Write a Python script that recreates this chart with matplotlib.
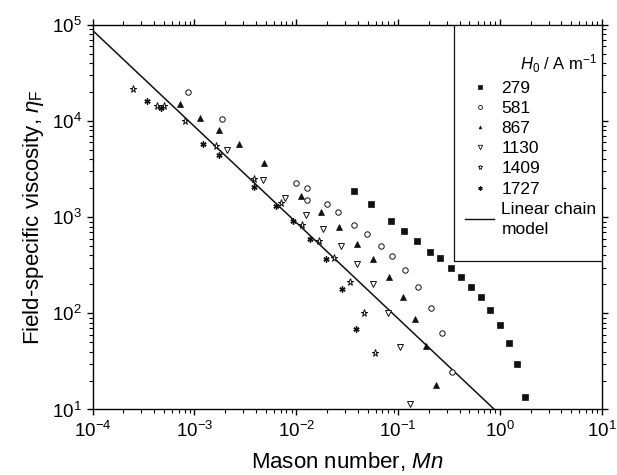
import matplotlib
matplotlib.use("Agg")
import matplotlib.pyplot as plt
from matplotlib.lines import Line2D
from matplotlib.patches import Rectangle

plt.rcParams['font.family'] = ['Liberation Sans', 'DejaVu Sans']
plt.rcParams['mathtext.fontset'] = 'custom'
plt.rcParams['mathtext.rm'] = 'Liberation Sans'
plt.rcParams['mathtext.it'] = 'Liberation Sans:italic'
plt.rcParams['mathtext.bf'] = 'Liberation Sans:bold'

# data (Mason number, field-specific viscosity)
mn_279 = [0.0365, 0.0545, 0.0841, 0.114, 0.154, 0.206, 0.255, 0.330, 0.414, 0.519,
          0.650, 0.803, 0.995, 1.23, 1.47, 1.75]
eta_279 = [1875, 1362, 920, 724, 565, 434, 376, 298, 240, 190,
           147, 109, 76.4, 49.3, 29.5, 13.4]

mn_581 = [8.73e-4, 1.88e-3, 9.98e-3, 0.0127, 0.0127, 0.0200, 0.0256, 0.0372, 0.0490,
          0.0671, 0.0869, 0.117, 0.157, 0.208, 0.271, 0.337]
eta_581 = [20180, 10510, 2297, 2013, 1510, 1362, 1147, 834, 666,
           498, 392, 284, 187, 114, 61.9, 24.5]

mn_867 = [7.24e-4, 1.14e-3, 1.74e-3, 2.75e-3, 4.86e-3, 0.01117, 0.01758, 0.0264,
          0.0398, 0.0566, 0.0803, 0.111, 0.147, 0.189, 0.234]
eta_867 = [15070, 10900, 8040, 5820, 3640, 1682, 1141, 785,
           532, 367, 240, 147, 87.7, 45.9, 17.9]

mn_1130 = [2.11e-3, 4.66e-3, 7.78e-3, 0.01245, 0.01828, 0.0272, 0.0394, 0.0565,
           0.0787, 0.1037, 0.1315]
eta_1130 = [5005, 2440, 1603, 1059, 750, 505, 329, 200, 101, 44.9, 11.5]

mn_1409 = [2.52e-4, 4.25e-4, 4.98e-4, 8.11e-4, 1.63e-3, 3.83e-3, 7.00e-3, 0.01148,
           0.01667, 0.02355, 0.0337, 0.0462, 0.0595]
eta_1409 = [21420, 14360, 14360, 9950, 5550, 2480, 1395, 839, 572, 374, 211, 100, 38.5]

mn_1727 = [3.40e-4, 4.66e-4, 1.205e-3, 1.74e-3, 3.83e-3, 6.31e-3, 9.22e-3, 0.01355,
           0.0195, 0.0281, 0.0381]
eta_1727 = [16270, 13690, 5735, 4470, 2087, 1308, 917, 600, 366, 178, 69.5]

model_mn = [1e-4, 0.88]
model_eta = [8.8e4, 10]

labels = ['279', '581', '867', '1130', '1409', '1727']
k = '#111111'
styles = [
    dict(marker='s', ms=3.8, mfc=k, mec=k, mew=0.5),
    dict(marker='o', ms=3.9, mfc='white', mec=k, mew=0.7),
    dict(marker='^', ms=4.9, mfc=k, mec=k, mew=0.5),
    dict(marker='v', ms=4.8, mfc='white', mec=k, mew=0.7),
    dict(marker='*', ms=5.2, mfc='white', mec=k, mew=0.7),
    dict(marker=(6, 2, 0), ms=4.4, mfc=k, mec=k, mew=1.0),
]
legend_styles = [
    dict(marker='s', ms=2.4, mfc=k, mec=k, mew=0.5),
    dict(marker='o', ms=2.8, mfc='white', mec=k, mew=0.6),
    dict(marker='^', ms=2.0, mfc=k, mec=k, mew=0.5),
    dict(marker='v', ms=3.2, mfc='white', mec=k, mew=0.6),
    dict(marker='*', ms=3.6, mfc='white', mec=k, mew=0.6),
    dict(marker=(6, 2, 0), ms=3.0, mfc=k, mec=k, mew=0.8),
]

fig = plt.figure(figsize=(6.17, 4.75), dpi=100)
ax = fig.add_axes([0.150, 0.1379, 0.8257, 0.8095])

series = [(mn_279, eta_279), (mn_581, eta_581), (mn_867, eta_867),
          (mn_1130, eta_1130), (mn_1409, eta_1409), (mn_1727, eta_1727)]
for (x, y), st in zip(series, styles):
    ax.plot(x, y, ls='none', zorder=4, **st)

ax.plot(model_mn, model_eta, color=k, lw=1.1, zorder=3)

ax.set_xscale('log')
ax.set_yscale('log')
ax.set_xlim(1e-4, 10)
ax.set_ylim(10, 1e5)

ax.tick_params(axis='both', which='both', labelsize=13.5, top=True, right=True)
ax.tick_params(axis='both', which='major', direction='out', length=4.5, width=1.0)
ax.tick_params(axis='both', which='minor', direction='out', length=3, width=0.8)
for s in ax.spines.values():
    s.set_linewidth(1.0)

ax.set_xlabel('Mason number, $Mn$', fontsize=16, labelpad=7)
ax.set_ylabel(r'Field-specific viscosity, $\eta_\mathrm{F}$', fontsize=16, labelpad=4)

# legend box
ax.add_patch(Rectangle((0.7095, 0.386), 0.2905, 0.614, transform=ax.transAxes,
                       facecolor='white', edgecolor=k, lw=0.9, zorder=5))
ax.text(0.839, 0.8986, r'$H_\mathrm{0}$ / A m$^{\mathrm{-1}}$', transform=ax.transAxes,
        fontsize=12, ha='left', va='center', zorder=6)

handles = [Line2D([], [], ls='none', **st) for st in legend_styles]
handles.append(Line2D([], [], color=k, lw=1.0))
leg = ax.legend(handles, labels + ['Linear chain\nmodel'], loc='upper left',
                bbox_to_anchor=(0.731, 0.8556), frameon=False, fontsize=12.5,
                borderpad=0, borderaxespad=0, handlelength=1.7, handletextpad=0.4,
                labelspacing=0.29)
leg.get_texts()[-1].set_linespacing(1.45)
leg.set_zorder(7)

fig.savefig('out.png', dpi=100)
